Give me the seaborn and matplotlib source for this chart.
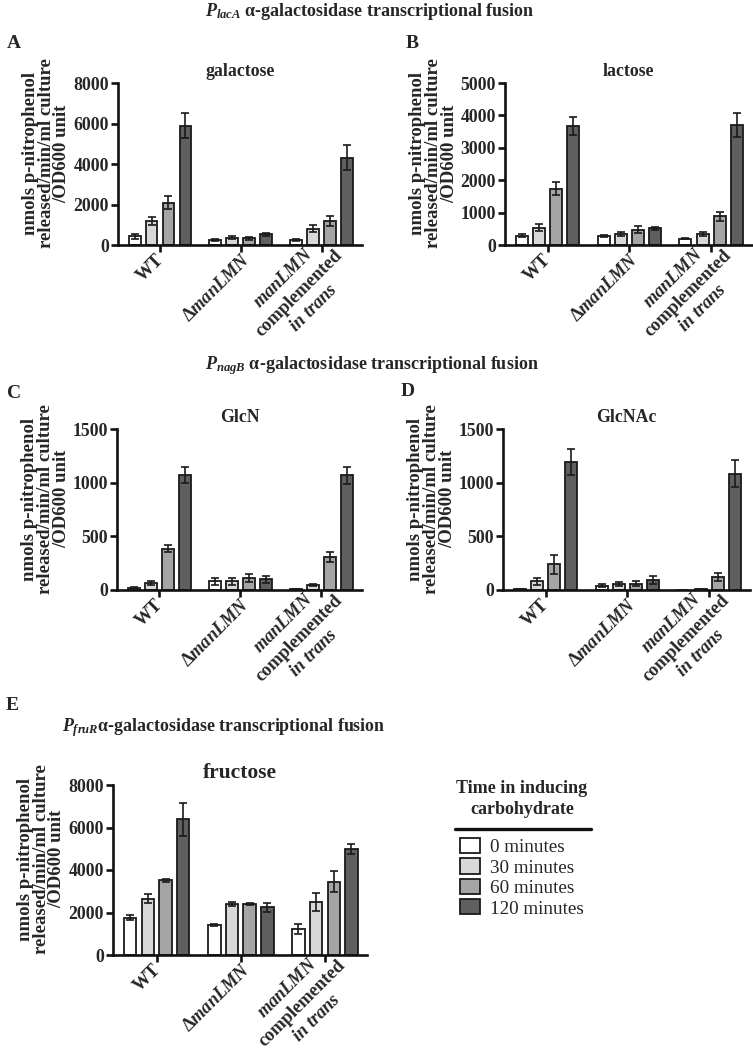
import numpy as np
import pandas as pd
import matplotlib
matplotlib.use("Agg")
import matplotlib.pyplot as plt
import matplotlib.transforms as mtransforms
from matplotlib.lines import Line2D
import seaborn as sns

# strains (x categories) and time points (hue)
strains = ["WT", "Δ$manLMN$", "$manLMN$\ncomplemented\n$in\\ trans$"]
times = ["0 minutes", "30 minutes", "60 minutes", "120 minutes"]
colors = ["#ffffff", "#d8d8d8", "#a5a5a5", "#5f5f5f"]

# mean values, one row per strain, one column per time point
galactose = [[420, 1200, 2090, 5890], [250, 360, 330, 530], [260, 810, 1200, 4320]]
galactose_err = [[120, 200, 330, 630], [40, 60, 70, 70], [50, 170, 250, 620]]

lactose = [[290, 540, 1740, 3680], [270, 340, 470, 510], [200, 330, 880, 3700]]
lactose_err = [[50, 100, 200, 270], [30, 70, 110, 40], [30, 60, 130, 360]]

glcn = [[20, 65, 385, 1075], [80, 80, 110, 100], [10, 45, 310, 1068]]
glcn_err = [[8, 15, 35, 75], [30, 30, 35, 35], [3, 8, 45, 80]]

glcnac = [[5, 80, 240, 1190], [40, 55, 60, 95], [3, 5, 120, 1085]]
glcnac_err = [[2, 35, 90, 120], [15, 20, 20, 35], [1, 2, 35, 130]]

fructose = [[1760, 2650, 3510, 6380], [1410, 2400, 2400, 2240], [1240, 2500, 3450, 4990]]
fructose_err = [[130, 200, 80, 780], [40, 100, 60, 200], [230, 440, 500, 220]]

ylab = "nmols p-nitrophenol\nreleased/min/ml culture\n/OD600 unit"

sns.set_theme(style="ticks")
plt.rcParams["font.family"] = ["Liberation Serif", "DejaVu Serif"]
plt.rcParams["font.weight"] = "bold"
plt.rcParams["axes.titleweight"] = "bold"
plt.rcParams["axes.labelweight"] = "bold"
plt.rcParams["mathtext.fontset"] = "custom"
plt.rcParams["mathtext.rm"] = "Liberation Serif:bold"
plt.rcParams["mathtext.it"] = "Liberation Serif:bold:italic"
plt.rcParams["mathtext.bf"] = "Liberation Serif:bold"

W, H = 753, 1050
fig = plt.figure(figsize=(W / 100, H / 100), dpi=100)

# nudges (pixels, x right / y up) so the rotated labels sit like the original
label_shift = [(-5, 3), (1, 3), (-3, 22)]


def px_axes(left, top, right, bottom):
    return fig.add_axes([left / W, 1 - bottom / H, (right - left) / W, (bottom - top) / H])


def panel(ax, vals, errs, title, ticks, title_size=12.8, legend=False):
    rows = []
    for i, s in enumerate(strains):
        for j, t in enumerate(times):
            rows.append({"strain": s, "time": t, "value": vals[i][j], "err": errs[i][j]})
    df = pd.DataFrame(rows)
    sns.barplot(data=df, x="strain", y="value", hue="time", order=strains, hue_order=times,
                palette=colors, edgecolor="#1a1a1a", linewidth=1.3, width=0.84, gap=0.3,
                errorbar=None, legend=legend, ax=ax)
    # error bars on top of the seaborn bars
    bar_groups = list(ax.containers)
    for j, cont in enumerate(bar_groups):
        sub = df[df.time == times[j]].set_index("strain").loc[strains]
        xs = [b.get_x() + b.get_width() / 2 for b in cont]
        ax.errorbar(xs, sub["value"], yerr=sub["err"], fmt="none", ecolor="#1a1a1a",
                    elinewidth=1.2, capsize=3, capthick=1.2, zorder=5)
    ax.set_ylim(0, ticks[-1])
    ax.set_yticks(ticks)
    ax.set_xlim(-0.52, 2.5)
    ax.set_xlabel("")
    ax.set_ylabel(ylab, fontsize=13.5, linespacing=0.92, labelpad=2, y=0.565)
    ax.set_title(title, fontsize=title_size, pad=5)
    sns.despine(ax=ax)
    for sp in ["left", "bottom"]:
        ax.spines[sp].set_linewidth(1.9)
        ax.spines[sp].set_color("#111111")
    ax.tick_params(axis="both", width=1.9, length=5, color="#111111", labelsize=12.8, pad=1.5)
    ax.set_xticks(range(len(strains)))
    ax.set_xticklabels(strains, rotation=45, ha="right", va="top", rotation_mode="anchor",
                       multialignment="center", linespacing=1.3, fontsize=13.2)
    for lab, (dx, dy) in zip(ax.get_xticklabels(), label_shift):
        off = mtransforms.ScaledTranslation(dx / 100, dy / 100, fig.dpi_scale_trans)
        lab.set_transform(lab.get_transform() + off)
    for lab in ax.get_yticklabels():
        lab.set_fontweight("bold")


ax_a = px_axes(118, 83, 362, 245)
panel(ax_a, galactose, galactose_err, "galactose", [0, 2000, 4000, 6000, 8000])
ax_b = px_axes(505, 83, 752, 245)
panel(ax_b, lactose, lactose_err, "lactose", [0, 1000, 2000, 3000, 4000, 5000])
ax_c = px_axes(117, 429, 362, 590)
panel(ax_c, glcn, glcn_err, "GlcN", [0, 500, 1000, 1500])
ax_d = px_axes(503, 429, 750, 590)
panel(ax_d, glcnac, glcnac_err, "GlcNAc", [0, 500, 1000, 1500])
ax_e = px_axes(113, 785, 367, 955)
panel(ax_e, fructose, fructose_err, "fructose", [0, 2000, 4000, 6000, 8000],
      title_size=15.5, legend=True)

# legend for the time points
handles, labels = ax_e.get_legend_handles_labels()
ax_e.get_legend().remove()
fig.legend(handles, labels, loc="upper left", bbox_to_anchor=(460 / W, 1 - 838 / H),
           frameon=False, prop={"family": "Liberation Serif", "weight": "normal", "size": 13.8},
           handlelength=1.05, handleheight=0.83, handletextpad=0.5, labelspacing=0.12,
           borderaxespad=0, borderpad=0)
fig.text(522 / W, 1 - 799 / H, "Time in inducing\ncarbohydrate", ha="center", va="center",
         fontsize=13, linespacing=1.25)
fig.add_artist(Line2D([455 / W, 591 / W], [1 - 829 / H, 1 - 829 / H], color="#111111", lw=2.4))

# panel headings
fig.text(370 / W, 1 - 12 / H, "$P_{lacA}$ α-galactosidase transcriptional fusion",
         ha="center", va="center", fontsize=13)
fig.text(372 / W, 1 - 366 / H, "$P_{nagB}$ α-galactosidase transcriptional fusion",
         ha="center", va="center", fontsize=13)
fig.text(224 / W, 1 - 728 / H, "$P_{fruR}$α-galactosidase transcriptional fusion",
         ha="center", va="center", fontsize=12.9)

for letter, x, y in [("A", 14, 43), ("B", 412, 43), ("C", 14, 393), ("D", 408, 392), ("E", 12, 706)]:
    fig.text(x / W, 1 - y / H, letter, ha="center", va="center", fontsize=14)

fig.savefig("out.png", dpi=100)
